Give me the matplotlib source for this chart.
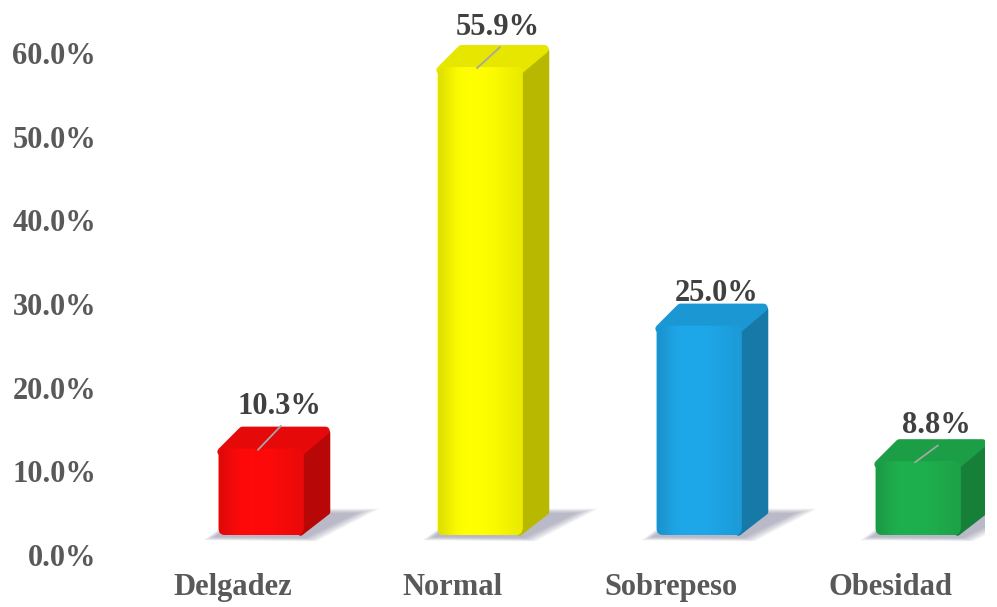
import numpy as np
import matplotlib.pyplot as plt
from matplotlib.patches import FancyBboxPatch, Polygon
from matplotlib.colors import to_rgb

# categories and shares (%)
categories = ["Delgadez", "Normal", "Sobrepeso", "Obesidad"]
shares = [10.3, 55.9, 25.0, 8.8]
bar_colors = ["#ff0a0a", "#ffff00", "#1ea8ea", "#1fb04e"]
yticks = [0, 10, 20, 30, 40, 50, 60]

# label lift above each bar's front top, in pixels
label_lift = [35, 32, 25, 28]

W, H, DPI = 997, 607, 100
fig = plt.figure(figsize=(W / DPI, H / DPI), dpi=DPI)

# axes geometry in pixels
ax_l, ax_r, ax_b, ax_t = 110, 985, 52, 596
ax = fig.add_axes([ax_l / W, ax_b / H, (ax_r - ax_l) / W, (ax_t - ax_b) / H])
x0_px, step_px = 233, 219
xlim = ((ax_l - x0_px) / step_px, (ax_r - x0_px) / step_px)
ylim = (0, 65)
ax.set_xlim(*xlim)
ax.set_ylim(*ylim)
px_x = step_px                      # pixels per x unit
px_y = (ax_t - ax_b) / (ylim[1] - ylim[0])  # pixels per y unit


def ux(p):
    return p / px_x


def uy(p):
    return p / px_y


def shade(c, f):
    r, g, b = to_rgb(c)
    return (r * f, g * f, b * f)


front_shift = ux(28)   # front face shift to the right of the tick
front_w = ux(85)
depth_x, depth_y = ux(24), uy(20)
floor = uy(20)
rad = 7

for i, (v, c) in enumerate(zip(shares, bar_colors)):
    xc = i + front_shift
    L, R = xc - front_w / 2, xc + front_w / 2
    B, T = floor, floor + v

    # soft floor shadow
    for k in range(7):
        g = k * 1.8
        pts = [(L - ux(4 + g), B - uy(2 + g * 0.3)),
               (R + ux(2 + g), B - uy(3 + g * 0.3)),
               (R + depth_x + ux(30 + g * 2), B + depth_y + uy(2 + g * 0.4)),
               (L + depth_x + ux(4), B + depth_y + uy(2 + g * 0.4))]
        ax.add_patch(Polygon(pts, closed=True, facecolor=(0.40, 0.40, 0.52),
                             edgecolor="none", alpha=0.08, zorder=1))

    # side face
    side = Polygon([(R - ux(3), B + uy(2)), (R - ux(3), T - uy(2)),
                    (R + depth_x, T + depth_y - uy(4)), (R + depth_x, B + depth_y + uy(3))],
                   closed=True, facecolor=shade(c, 0.72), edgecolor=shade(c, 0.72),
                   linewidth=4, joinstyle="round", zorder=2)
    ax.add_patch(side)

    # top face
    top = Polygon([(L + ux(3), T - uy(3)), (R - ux(3), T - uy(3)),
                   (R + depth_x - ux(2), T + depth_y - uy(2)), (L + depth_x, T + depth_y - uy(2))],
                  closed=True, facecolor=shade(c, 0.9), edgecolor=shade(c, 0.9),
                  linewidth=6, joinstyle="round", zorder=3)
    ax.add_patch(top)

    # front face with a horizontal gradient
    front = FancyBboxPatch((L, B), front_w, v,
                           boxstyle=f"round,pad=0,rounding_size={ux(rad)}",
                           mutation_aspect=px_x / px_y,
                           facecolor=c, edgecolor="none", zorder=4)
    ax.add_patch(front)
    prof = np.array([0.88, 0.96, 1.0, 1.0, 1.0, 0.99, 0.97, 0.95, 0.92])
    grad = np.array([[shade(c, f) for f in prof]])
    im = ax.imshow(grad, extent=(L, R, B, T), aspect="auto",
                   interpolation="bicubic", zorder=4.5)
    im.set_clip_path(front)

    # value label and leader line
    lift = uy(label_lift[i])
    ax.text(xc + ux(18), T + lift, f"{v:.1f}%", ha="center", va="baseline",
            fontsize=22, fontweight="bold", family="Liberation Serif",
            color="#404040", zorder=6)
    if label_lift[i] > 27:
        ax.plot([xc + ux(20), xc - ux(3)], [T + lift - uy(12), T - uy(1)],
                color="#a6a6a6", linewidth=1.3, zorder=5,
                solid_capstyle="round")

ax.set_yticks(yticks)
ax.set_yticklabels([f"{t:.1f}%" for t in yticks])
ax.set_xticks(range(len(categories)))
ax.set_xticklabels(categories)
for lab in ax.get_yticklabels() + ax.get_xticklabels():
    lab.set_family("Liberation Serif")
    lab.set_fontweight("bold")
    lab.set_fontsize(22)
    lab.set_color("#595959")
ax.tick_params(axis="both", length=0)
ax.tick_params(axis="y", pad=10)
ax.tick_params(axis="x", pad=13)
for s in ax.spines.values():
    s.set_visible(False)

fig.savefig("out.png", dpi=DPI)
